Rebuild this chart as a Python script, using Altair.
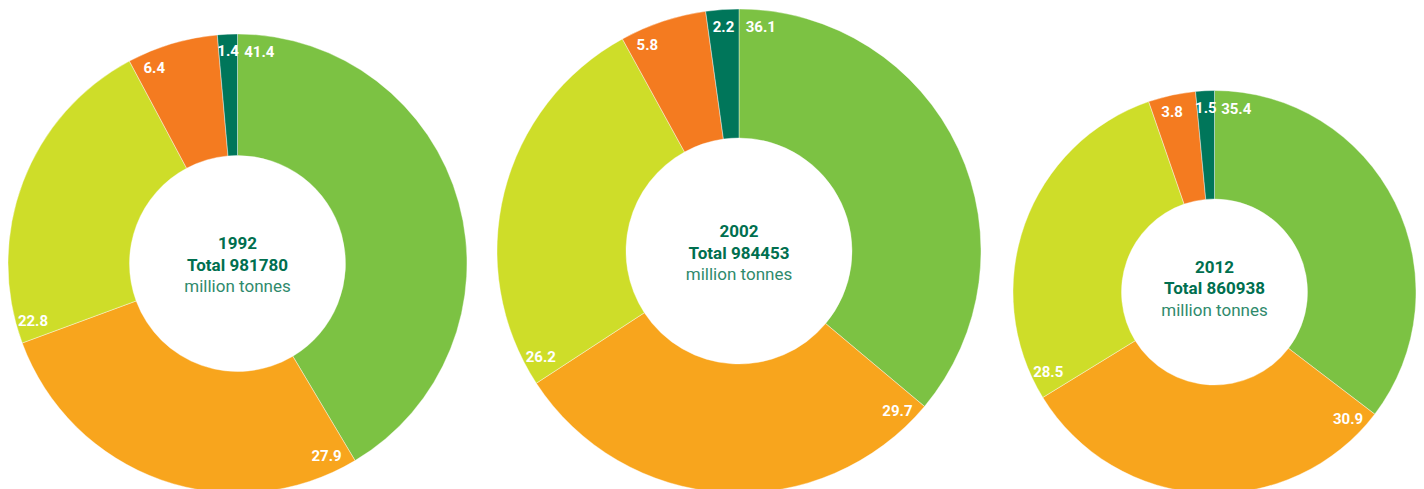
import math
import altair as alt
import pandas as pd

# ---------------- data ----------------
years = ["1992", "2002", "2012"]
totals = ["981780", "984453", "860938"]
categories = ["Segment 1", "Segment 2", "Segment 3", "Segment 4", "Segment 5"]
shares_1992 = [41.4, 27.9, 22.8, 6.4, 1.4]
shares_2002 = [36.1, 29.7, 26.2, 5.8, 2.2]
shares_2012 = [35.4, 30.9, 28.5, 3.8, 1.5]
all_shares = [shares_1992, shares_2002, shares_2012]

# ---------------- styles / layout ----------------
colors = ["#7cc243", "#f8a51d", "#cedd29", "#f47b20", "#00765a"]
centers = [(229.5, 255.5), (731, 243), (1206.5, 284)]   # chart coords
outer_r = [229.5, 242, 201.5]
inner_r = [108, 113, 93]
text_anchor_y = [255.5, 243.5, 279]
FONT = "Roboto"
LABEL_SIZE = 15
BOLD_GREEN = "#006f4f"
LIGHT_GREEN = "#2f8a6c"


def text_width(s, size=LABEL_SIZE):
    w = 0.0
    for ch in s:
        w += 0.27 * size if ch == "." else 0.56 * size
    return w


layers = []
for i, shares in enumerate(all_shares):
    total = sum(shares)
    cx, cy = centers[i]
    R, r = outer_r[i], inner_r[i]
    r_lab = R - 17
    label_theta, labels = [], []
    acc = 0.0
    for v in shares:
        lab = f"{v:.1f}"
        ang = (acc + 0.5) / total * 2 * math.pi
        hw = text_width(lab) / 2
        hh = LABEL_SIZE * 0.36
        ext = abs(math.cos(ang)) * hw + abs(math.sin(ang)) * hh + 7
        off = ext / r_lab * total / (2 * math.pi)
        off = min(off, v / 2)
        label_theta.append(acc + off)
        labels.append(lab)
        acc += v
    df = pd.DataFrame({
        "category": categories,
        "share": shares,
        "order": list(range(len(shares))),
        "label_theta": label_theta,
        "label": labels,
    })
    theta_scale = alt.Scale(domain=[0, total])
    arc = alt.Chart(df).mark_arc(
        outerRadius=R, innerRadius=r, stroke="white", strokeWidth=0.4
    ).encode(
        theta=alt.Theta("share:Q", stack=True, scale=theta_scale),
        color=alt.Color("category:N", scale=alt.Scale(domain=categories, range=colors), legend=None),
        order=alt.Order("order:Q"),
        x=alt.value(cx),
        y=alt.value(cy),
    )
    lbl = alt.Chart(df).mark_text(
        radius=r_lab, font=FONT, fontSize=LABEL_SIZE, fontWeight="bold",
        color="white", align="center", baseline="middle"
    ).encode(
        theta=alt.Theta("label_theta:Q", stack=None, scale=theta_scale),
        text="label:N",
        x=alt.value(cx),
        y=alt.value(cy),
    )
    ty = text_anchor_y[i]
    t1 = alt.Chart(pd.DataFrame({"t": [years[i]]})).mark_text(
        font=FONT, fontSize=17, fontWeight="bold", color=BOLD_GREEN, baseline="alphabetic"
    ).encode(text="t:N", x=alt.value(cx), y=alt.value(ty - 14.5))
    t2 = alt.Chart(pd.DataFrame({"t": ["Total " + totals[i]]})).mark_text(
        font=FONT, fontSize=17, fontWeight="bold", color=BOLD_GREEN, baseline="alphabetic"
    ).encode(text="t:N", x=alt.value(cx), y=alt.value(ty + 7))
    t3 = alt.Chart(pd.DataFrame({"t": ["million tonnes"]})).mark_text(
        font=FONT, fontSize=17, fontWeight="normal", color=LIGHT_GREEN, baseline="alphabetic"
    ).encode(text="t:N", x=alt.value(cx), y=alt.value(ty + 28.5))
    layers += [arc, lbl, t1, t2, t3]

chart = alt.layer(*layers).resolve_scale(theta="independent").properties(
    width=1408, height=481, padding=0, autosize=alt.AutoSizeParams(type="none")
).configure_view(stroke=None)

chart.save("out.html", embed_options={"renderer": "svg", "actions": False})
